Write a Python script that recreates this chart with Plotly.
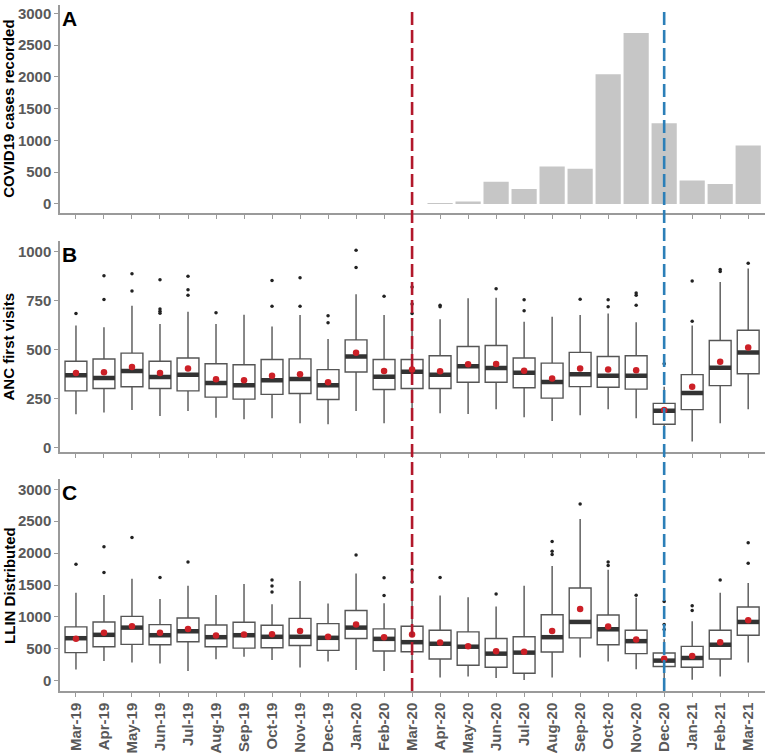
import plotly.graph_objects as go

months = ["Mar-19", "Apr-19", "May-19", "Jun-19", "Jul-19", "Aug-19", "Sep-19",
          "Oct-19", "Nov-19", "Dec-19", "Jan-20", "Feb-20", "Mar-20", "Apr-20",
          "May-20", "Jun-20", "Jul-20", "Aug-20", "Sep-20", "Oct-20", "Nov-20",
          "Dec-20", "Jan-21", "Feb-21", "Mar-21"]

# Panel A: COVID19 cases recorded
covid_cases = [0, 0, 0, 0, 0, 0, 0, 0, 0, 0, 0, 0, 0,
               8, 40, 350, 235, 590, 555, 2040, 2690, 1270, 370, 315, 920]

# Panel B: ANC first visits (box statistics)
anc_lower = [169, 178, 191, 161, 186, 152, 144, 149, 124, 118, 186, 124, 150,
             174, 171, 195, 154, 135, 164, 195, 149, 60, 30, 124, 195]
anc_q1 = [289, 301, 310, 301, 289, 257, 247, 271, 276, 245, 386, 296, 301,
          301, 333, 333, 305, 252, 311, 308, 298, 118, 193, 316, 377]
anc_median = [369, 355, 391, 360, 372, 330, 318, 344, 350, 318, 465, 362, 387,
              371, 415, 406, 382, 335, 374, 367, 367, 188, 278, 408, 486]
anc_q3 = [441, 452, 482, 441, 457, 428, 423, 450, 453, 398, 550, 450, 450,
          469, 516, 521, 457, 431, 486, 465, 469, 225, 372, 547, 599]
anc_upper = [623, 614, 724, 631, 694, 631, 679, 619, 677, 555, 783, 677, 650,
             656, 763, 766, 643, 668, 677, 685, 640, 310, 623, 846, 915]
anc_mean = [381, 384, 411, 381, 403, 349, 344, 367, 374, 333, 484, 391, 398,
            389, 425, 426, 392, 352, 403, 398, 394, 191, 310, 438, 511]
anc_outliers = [[685], [878, 756], [888, 800], [858, 708, 696, 686], [876, 807, 778],
                [689], [], [854, 722], [868, 722], [673, 638], [1008, 920], [773],
                [821, 733, 685], [727, 720], [], [811], [755, 699], [], [758],
                [755, 719], [790, 778, 727], [428], [851, 645], [910, 900], [942]]

# Panel C: LLIN distributed (box statistics)
llin_lower = [177, 310, 285, 270, 155, 337, 378, 326, 208, 301, 171, 155, 150,
              52, 68, 42, 11, 52, 363, 301, 182, 40, 15, 68, 285]
llin_q1 = [441, 534, 570, 565, 611, 534, 512, 517, 554, 476, 663, 466, 456,
           341, 244, 213, 119, 450, 673, 565, 425, 223, 213, 341, 714]
llin_median = [667, 720, 833, 714, 776, 683, 714, 689, 689, 673, 833, 657, 605,
               580, 534, 425, 441, 683, 922, 807, 621, 316, 357, 565, 922]
llin_q3 = [844, 922, 1009, 880, 984, 875, 916, 869, 978, 896, 1102, 813, 854,
           792, 767, 663, 689, 1035, 1454, 1030, 792, 435, 539, 792, 1155]
llin_upper = [1381, 1346, 1599, 1283, 1490, 1346, 1516, 1201, 1563, 1211, 1682, 1216, 1350,
              1335, 1310, 1164, 1490, 1800, 2536, 1740, 1300, 650, 931, 1381, 1532]
llin_mean = [660, 751, 854, 751, 813, 709, 725, 730, 782, 689, 880, 683, 725,
             601, 543, 461, 456, 782, 1124, 849, 647, 347, 388, 605, 947]
llin_outliers = [[1827], [2101, 1698], [2246], [1620], [1862], [], [], [1578, 1485, 1392],
                 [], [], [1971], [1614, 1335], [1734, 1547], [1620], [], [1361], [],
                 [2184, 2028, 1977], [2769], [1862, 1805], [1340], [1242, 880, 802],
                 [1175, 1102], [1578], [2163, 1842]]

covid_ticks = [0, 500, 1000, 1500, 2000, 2500, 3000]
anc_ticks = [0, 250, 500, 750, 1000]
llin_ticks = [0, 500, 1000, 1500, 2000, 2500, 3000]

lockdown_month = "Mar-20"
second_wave_month = "Dec-20"

FONT = "Liberation Sans, Arial, sans-serif"
TICK_COLOR = "#595959"
AXIS_COLOR = "#9a9a9a"
BOX_W = 0.78
idx = list(range(len(months)))

fig = go.Figure()

fig.add_trace(go.Bar(x=idx, y=covid_cases, width=0.9, marker=dict(color="#c6c6c6", line=dict(width=0)),
                     xaxis="x", yaxis="y", showlegend=False))


def add_box_panel(xa, ya, lower, q1, med, q3, upper, mean, outliers):
    fig.add_trace(go.Box(x=idx, q1=q1, median=med, q3=q3, lowerfence=lower, upperfence=upper,
                         width=BOX_W, whiskerwidth=0, fillcolor="white", boxpoints=False,
                         line=dict(color="#555555", width=1.4), xaxis=xa, yaxis=ya, showlegend=False))
    mx, my = [], []
    for i, m in zip(idx, med):
        mx += [i - BOX_W / 2, i + BOX_W / 2, None]
        my += [m, m, None]
    fig.add_trace(go.Scatter(x=mx, y=my, mode="lines", line=dict(color="#333333", width=4.5),
                             xaxis=xa, yaxis=ya, showlegend=False))
    ox, oy = [], []
    for i, outs in zip(idx, outliers):
        for v in outs:
            ox.append(i)
            oy.append(v)
    fig.add_trace(go.Scatter(x=ox, y=oy, mode="markers", marker=dict(color="#222222", size=3.5),
                             xaxis=xa, yaxis=ya, showlegend=False))
    fig.add_trace(go.Scatter(x=idx, y=mean, mode="markers", marker=dict(color="#cc2027", size=6.5),
                             xaxis=xa, yaxis=ya, showlegend=False))


add_box_panel("x2", "y2", anc_lower, anc_q1, anc_median, anc_q3, anc_upper, anc_mean, anc_outliers)
add_box_panel("x3", "y3", llin_lower, llin_q1, llin_median, llin_q3, llin_upper, llin_mean, llin_outliers)

xr = [-0.57, 24.6]
common_axis = dict(showline=True, linecolor=AXIS_COLOR, linewidth=1.5, ticks="outside", ticklen=4,
                   tickcolor=AXIS_COLOR, tickwidth=1, showgrid=False, zeroline=False,
                   tickfont=dict(family=FONT, size=15, color=TICK_COLOR, weight="bold"))

dA = [0.697, 1.0]
dB = [0.348, 0.656]
dC = [0.0, 0.309]

fig.update_layout(
    width=767, height=756,
    margin=dict(l=60, r=2, t=5, b=59),
    paper_bgcolor="white", plot_bgcolor="white",
    showlegend=False,
    xaxis=dict(domain=[0, 1], anchor="y", range=xr, tickvals=idx, showticklabels=False, **common_axis),
    xaxis2=dict(domain=[0, 1], anchor="y2", range=xr, tickvals=idx, showticklabels=False, matches="x", **common_axis),
    xaxis3=dict(domain=[0, 1], anchor="y3", range=xr, tickvals=idx, ticktext=months, tickangle=-90,
                matches="x", **common_axis),
    yaxis=dict(domain=dA, anchor="x", range=[-140, 3130], tickvals=covid_ticks, **common_axis),
    yaxis2=dict(domain=dB, anchor="x2", range=[-25, 1056], tickvals=anc_ticks, **common_axis),
    yaxis3=dict(domain=dC, anchor="x3", range=[-160, 3161], tickvals=llin_ticks, **common_axis),
)

# vertical dashed reference lines spanning all panels
for month, col in [(lockdown_month, "#b2182b"), (second_wave_month, "#2c7fb8")]:
    xi = months.index(month)
    fig.add_shape(type="line", xref="x", yref="paper", x0=xi, x1=xi, y0=0, y1=0.993,
                  line=dict(color=col, width=2.6, dash="13px,5px"), layer="above")

# axis titles
title_font = dict(family=FONT, size=15, color="black", weight="bold")
for text, d in [("COVID19 cases recorded", dA), ("ANC first visits", dB), ("LLIN Distributed", dC)]:
    fig.add_annotation(text=text, xref="paper", yref="paper", x=-0.0725, y=(d[0] + d[1]) / 2,
                       textangle=-90, showarrow=False, font=title_font,
                       xanchor="center", yanchor="middle")

# panel letters
letter_font = dict(family=FONT, size=21, color="black", weight="bold")
for letter, ya in [("A", "y"), ("B", "y2"), ("C", "y3")]:
    fig.add_annotation(text=letter, xref="x domain", yref=ya + " domain", x=0.0, y=1.0,
                       xanchor="left", yanchor="top", showarrow=False, font=letter_font)

# remove the default page margin so the figure sits at the window's top-left corner
fig.write_html("out.html", config={"displayModeBar": False},
               post_script="document.body.style.margin='0';")
